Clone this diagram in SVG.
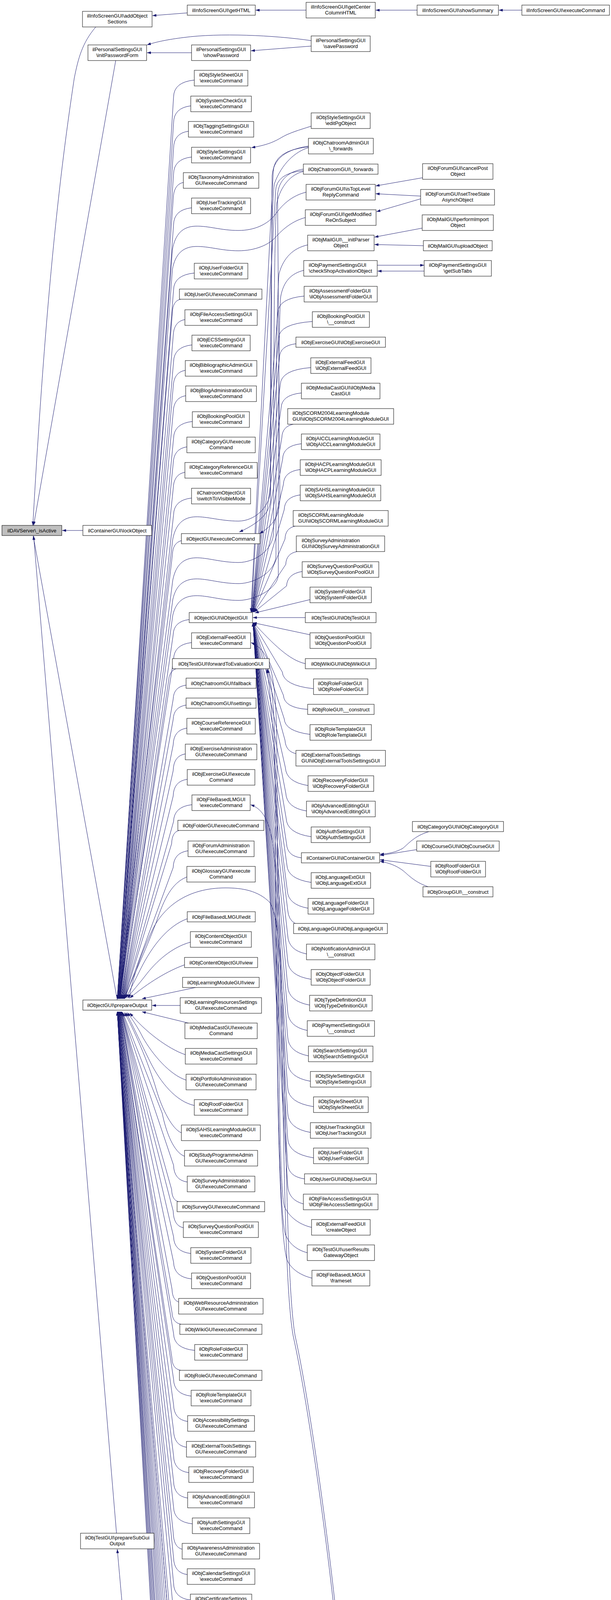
<svg xmlns="http://www.w3.org/2000/svg" width="1563" height="5291" viewBox="0 0 1563 5291">
<defs>
<marker id="a" viewBox="0 0 10 7" refX="10" refY="3.5" markerWidth="10" markerHeight="7" markerUnits="userSpaceOnUse" orient="auto"><path d="M0,0 L10,3.5 L0,7 z" fill="#191970"/></marker>
<style>
.n rect{fill:#fff;stroke:#000;stroke-width:1}
.r rect{fill:#bfbfbf}
text{font-family:"Liberation Sans",Arial,Helvetica,sans-serif;font-size:13px;text-anchor:middle;fill:#000}
#edges path{fill:none;stroke:#191970;stroke-width:1;marker-end:url(#a)}
</style>
</defs>
<rect width="1563" height="5291" fill="#fff"/>
<g id="edges">
<path d="M479,33 L390,40"/>
<path d="M783,26 L654,26"/>
<path d="M1067,26 L961,26"/>
<path d="M1335,26 L1276,26"/>
<path d="M245,69 C210,110 200,150 190,200 C160,400 120,700 84,1345"/>
<path d="M490,135 L376,135"/>
<path d="M796,118 L642,130"/>
<path d="M796,104 C700,90 560,84 470,96 C430,101 400,107 376,115"/>
<path d="M296,155 L86,1345"/>
<path d="M212,1358 L159,1358"/>
<path d="M300,2560 L85,1372"/>
<path d="M298,3925 L86,1372"/>
<path d="M872,4278 C860,4500 830,5000 750,5180 C700,5280 620,5290 565,5287 C480,5285 440,5230 420,5150 C380,4900 330,4300 300,3966"/>
<path d="M866,4278 C845,4600 800,4950 760,5060 C730,5140 700,5170 660,5186"/>
<path d="M868,4252 C845,4000 790,3600 750,3420 C728,3300 726,2900 718,2500 C710,2100 700,1800 682,1713"/>
<path d="M786,3207 C760,3200 740,3185 730,3160 C712,3100 706,2600 704,2000 C703,1830 698,1760 684,1713"/>
<path d="M872,4252 C849,4000 795,3600 755,3420 C734,3300 732,2900 724,2600 C720,2480 712,2340 690,2310 C660,2280 620,2273 577,2273 C480,2273 420,2320 390,2380 C362,2440 340,2500 330,2556"/>
<path d="M797,3142 C765,3135 740,3115 728,3090 C712,3050 712,2500 708,1900 C706,1720 690,1665 642,1645"/>
<path d="M798,3272 C770,3265 745,3250 734,3225 C712,3150 708,2700 706,2300 C705,2130 685,2075 641,2060"/>
<path d="M796,323 C765,333 740,340 720,352 C700,364 680,372 643,378"/>
<path d="M1081,455 L961,476"/>
<path d="M1076,502 L961,496"/>
<path d="M1076,509 L963,542"/>
<path d="M1080,584 L958,607"/>
<path d="M1083,629 L958,626"/>
<path d="M965,679 L1085,679"/>
<path d="M1085,694 L966,694"/>
<path d="M1097,2129 C1060,2140 1045,2160 1030,2172 C1012,2182 995,2185 972,2187"/>
<path d="M1066,2175 L972,2190"/>
<path d="M1102,2218 L972,2201"/>
<path d="M1095,2270 C1060,2258 1045,2240 1030,2228 C1012,2215 995,2209 972,2205"/>
<path d="M783,492 C750,500 725,520 705,548 C685,575 650,590 610,590 C565,590 535,578 500,579 C468,580 448,598 441,640 L303,2557"/>
<path d="M781,557 C750,565 725,585 707,605 C688,628 650,642 610,642 C565,642 535,630 500,631 C468,632 448,650 441,690 L303,2557"/>
<path d="M789,378 C755,388 720,420 702,470 C692,520 692,1000 692,1250 C692,1300 650,1334 610,1334 C565,1334 530,1322 500,1323 C470,1324 450,1340 442,1380 L304,2557"/>
<path d="M776,439 C745,446 718,475 708,520 C700,600 700,1100 700,1360 C700,1410 650,1440 610,1440 C565,1440 530,1427 500,1428 C470,1429 450,1445 442,1485 L305,2557"/>
<path d="M787,627 C750,635 725,660 714,700 C706,760 706,1200 706,1420 C706,1465 650,1494 610,1494 C565,1494 530,1481 500,1482 C470,1483 450,1498 442,1535 L306,2557"/>
<path d="M777,692 C745,700 725,720 718,760 C712,820 712,1250 712,1470 C712,1508 650,1537 610,1537 C565,1537 530,1524 500,1525 C470,1526 450,1540 442,1575 L307,2557"/>
<path d="M789,374 C750,380 700,395 696,450 L692,1280 C690,1320 650,1345 612,1362"/>
<path d="M776,433 C740,438 712,460 710,500 L716,1270 C716,1320 700,1345 664,1366"/>
<path d="M789,376 Q700,385 699,440 L642,1567"/>
<path d="M776,437 Q706,443 705,490 L643,1567"/>
<path d="M778,758 Q712,764 711,800 L644,1567"/>
<path d="M799,823 Q714,829 713,865 L645,1567"/>
<path d="M757,880 Q716,885 715,915 L646,1567"/>
<path d="M795,941 Q718,947 717,985 L646,1567"/>
<path d="M771,1006 Q720,1011 719,1045 L647,1567"/>
<path d="M750,1086 Q722,1092 721,1120 L647,1567"/>
<path d="M771,1136 Q724,1141 723,1175 L648,1567"/>
<path d="M768,1202 Q726,1207 725,1240 L648,1567"/>
<path d="M768,1267 Q728,1272 727,1305 L649,1567"/>
<path d="M755,1347 Q730,1352 729,1380 L649,1567"/>
<path d="M760,1412 Q732,1417 731,1445 L650,1567"/>
<path d="M773,1463 Q735,1469 733,1500 L650,1567"/>
<path d="M793,1535 L652,1569"/>
<path d="M781,1581 L647,1581"/>
<path d="M793,1625 L647,1594"/>
<path d="M781,1699 C740,1690 700,1650 648,1594"/>
<path d="M802,1763 Q725,1755 722,1720 L647,1594"/>
<path d="M787,1816 Q727,1812 725,1780 L647,1594"/>
<path d="M793,1880 Q729,1872 727,1840 L647,1594"/>
<path d="M760,1930 Q731,1925 729,1895 L647,1594"/>
<path d="M788,2011 Q732,2002 730,1965 L647,1594"/>
<path d="M784,2076 Q733,2068 731,2030 L647,1594"/>
<path d="M796,2142 Q734,2133 732,2095 L647,1594"/>
<path d="M771,2196 Q735,2192 733,2160 L647,1594"/>
<path d="M796,2259 Q736,2250 734,2215 L647,1594"/>
<path d="M788,2325 Q737,2316 735,2280 L647,1594"/>
<path d="M755,2364 Q738,2355 736,2330 L647,1594"/>
<path d="M784,2442 Q738,2433 736,2395 L647,1594"/>
<path d="M796,2507 Q738,2498 736,2460 L647,1594"/>
<path d="M792,2573 Q738,2563 736,2525 L647,1594"/>
<path d="M786,2638 Q738,2628 736,2590 L647,1594"/>
<path d="M789,2703 Q738,2693 736,2655 L647,1594"/>
<path d="M794,2768 Q738,2758 736,2720 L647,1594"/>
<path d="M802,2833 Q738,2823 736,2785 L647,1594"/>
<path d="M794,2899 Q738,2889 736,2850 L647,1594"/>
<path d="M802,2964 Q738,2954 736,2915 L647,1594"/>
<path d="M779,3018 Q738,3012 736,2980 L647,1594"/>
<path d="M776,3082 Q738,3072 736,3035 L647,1594"/>
<path d="M497,205 Q445,210 444,248 L300,2557"/>
<path d="M488,271 Q445,276 444,314 L300,2557"/>
<path d="M482,336 Q445,341 444,379 L300,2557"/>
<path d="M490,402 Q445,407 444,445 L301,2557"/>
<path d="M469,467 Q444,472 443,510 L301,2557"/>
<path d="M490,532 Q445,537 444,575 L302,2557"/>
<path d="M497,699 Q445,704 444,742 L302,2557"/>
<path d="M462,766 Q442,770 441,800 L303,2557"/>
<path d="M473,818 Q444,823 443,861 L304,2557"/>
<path d="M491,883 Q445,888 444,926 L304,2557"/>
<path d="M474,948 Q444,953 443,991 L305,2557"/>
<path d="M475,1013 Q444,1018 443,1056 L305,2557"/>
<path d="M492,1079 Q445,1084 444,1122 L306,2557"/>
<path d="M478,1144 Q444,1149 443,1187 L306,2557"/>
<path d="M473,1209 Q444,1214 443,1252 L307,2557"/>
<path d="M490,1275 Q445,1280 444,1318 L307,2557"/>
<path d="M464,1384 Q442,1390 441,1420 L308,2557"/>
<path d="M484,1586 Q444,1591 443,1625 L309,2557"/>
<path d="M490,1645 Q445,1650 444,1688 L310,2557"/>
<path d="M450,1712 Q432,1718 431,1745 L311,2557"/>
<path d="M476,1754 Q444,1758 443,1790 L312,2557"/>
<path d="M476,1805 Q444,1810 443,1842 L313,2557"/>
<path d="M478,1864 Q444,1869 443,1907 L314,2557"/>
<path d="M474,1930 Q444,1935 443,1973 L315,2557"/>
<path d="M479,1995 Q444,2000 443,2038 L316,2557"/>
<path d="M491,2060 Q445,2065 444,2103 L317,2557"/>
<path d="M458,2126 Q440,2130 439,2160 L318,2557"/>
<path d="M481,2178 Q444,2183 443,2221 L319,2557"/>
<path d="M478,2245 C440,2260 420,2300 400,2360 C370,2440 340,2500 318,2556"/>
<path d="M479,2352 C430,2370 390,2420 360,2480 C345,2510 335,2530 322,2555"/>
<path d="M487,2412 C440,2425 400,2460 370,2500 C355,2520 340,2535 326,2555"/>
<path d="M472,2470 C430,2485 380,2515 332,2555"/>
<path d="M500,2528 L363,2557"/>
<path d="M461,2574 L389,2574"/>
<path d="M482,2619 L363,2590"/>
<path d="M474,2700 C430,2685 370,2640 332,2593"/>
<path d="M476,2765 C435,2752 390,2700 365,2655 C350,2625 335,2605 326,2592"/>
<path d="M497,2830 C450,2820 410,2770 385,2720 C360,2670 335,2615 322,2592"/>
<path d="M464,2900 C440,2890 415,2840 400,2790 C380,2720 340,2630 318,2592"/>
<path d="M472,2960 C445,2950 425,2900 415,2850 L314,2592"/>
<path d="M479,3026 Q445,3021 444,2983 L312,2590"/>
<path d="M456,3076 Q440,3072 439,3045 L311,2590"/>
<path d="M469,3143 Q444,3138 443,3100 L310,2590"/>
<path d="M488,3209 Q445,3204 444,3166 L310,2590"/>
<path d="M490,3274 Q445,3269 444,3231 L309,2590"/>
<path d="M460,3334 Q441,3330 440,3300 L308,2590"/>
<path d="M463,3390 Q441,3386 440,3360 L308,2590"/>
<path d="M498,3457 Q445,3452 444,3414 L307,2590"/>
<path d="M462,3508 Q441,3504 440,3478 L306,2590"/>
<path d="M489,3574 Q445,3569 444,3531 L306,2590"/>
<path d="M480,3639 Q445,3634 444,3596 L305,2590"/>
<path d="M477,3705 Q445,3700 444,3662 L305,2590"/>
<path d="M483,3770 Q445,3765 444,3727 L304,2590"/>
<path d="M480,3835 Q445,3830 444,3792 L304,2590"/>
<path d="M492,3901 Q445,3896 444,3858 L303,2590"/>
<path d="M466,3966 Q444,3961 443,3923 L303,2590"/>
<path d="M479,4031 Q445,4026 444,3988 L303,2590"/>
<path d="M487,4096 Q445,4091 444,4053 L302,2590"/>
<path d="M472,4162 Q444,4157 443,4119 L302,2590"/>
<path d="M458,4213 Q440,4209 439,4182 L302,2590"/>
<path d="M456,4272 Q440,4268 439,4240 L301,2590"/>
<path d="M483,4345 Q445,4340 444,4302 L301,2590"/>
<path d="M483,4410 Q445,4405 444,4367 L301,2590"/>
<path d="M477,4475 Q445,4470 444,4432 L300,2590"/>
<path d="M474,4541 Q445,4536 444,4498 L300,2590"/>
<path d="M495,4606 Q445,4601 444,4563 L300,2590"/>
<path d="M488,4672 Q445,4667 444,4629 L300,2590"/>
<path d="M478,4737 Q445,4732 444,4694 L300,2590"/>
<path d="M492,4802 Q445,4797 444,4759 L300,2590"/>
<path d="M466,4867 Q444,4862 443,4824 L300,2590"/>
<path d="M483,4933 Q445,4928 444,4890 L300,2590"/>
<path d="M474,4998 Q445,4993 444,4955 L300,2590"/>
<path d="M485,5063 Q445,5058 444,5020 L300,2590"/>
<path d="M480,5129 Q445,5124 444,5086 L300,2590"/>
<path d="M472,5194 Q445,5189 444,5151 L300,2590"/>
</g>
<g id="nodes">
<g id="info_addObjectSections" class="n"><rect x="211" y="29" width="178" height="40"/><text x="300" y="45">ilInfoScreenGUI\addObject</text><text x="300" y="59.5">Sections</text></g>
<g id="info_getHTML" class="n"><rect x="479" y="13" width="174" height="26"/><text x="566" y="30.5">ilInfoScreenGUI\getHTML</text></g>
<g id="info_getCenterColumnHTML" class="n"><rect x="783" y="6" width="177" height="40"/><text x="871.5" y="22">ilInfoScreenGUI\getCenter</text><text x="871.5" y="36.5">ColumnHTML</text></g>
<g id="info_showSummary" class="n"><rect x="1067" y="13" width="208" height="26"/><text x="1171" y="30.5">ilInfoScreenGUI\showSummary</text></g>
<g id="info_executeCommand" class="n"><rect x="1335" y="13" width="224" height="26"/><text x="1447" y="30.5">ilInfoScreenGUI\executeCommand</text></g>
<g id="ps_initPasswordForm" class="n"><rect x="225" y="115" width="150" height="40"/><text x="300" y="131">ilPersonalSettingsGUI</text><text x="300" y="145.5">\initPasswordForm</text></g>
<g id="ps_showPassword" class="n"><rect x="490" y="115" width="151" height="40"/><text x="565.5" y="131">ilPersonalSettingsGUI</text><text x="565.5" y="145.5">\showPassword</text></g>
<g id="ps_savePassword" class="n"><rect x="796" y="92" width="151" height="40"/><text x="871.5" y="108">ilPersonalSettingsGUI</text><text x="871.5" y="122.5">\savePassword</text></g>
<g id="root_isActive" class="n r"><rect x="5" y="1345" width="153" height="26"/><text x="81.5" y="1362.5">ilDAVServer\_isActive</text></g>
<g id="container_lockObject" class="n"><rect x="212" y="1345" width="176" height="26"/><text x="300" y="1362.5">ilContainerGUI\lockObject</text></g>
<g id="object_prepareOutput" class="n"><rect x="212" y="2560" width="176" height="26"/><text x="300" y="2577.5">ilObjectGUI\prepareOutput</text></g>
<g id="test_prepareSubGuiOutput" class="n"><rect x="206" y="3925" width="188" height="40"/><text x="300" y="3941">ilObjTestGUI\prepareSubGui</text><text x="300" y="3955.5">Output</text></g>
<g id="c2_01" class="n"><rect x="497" y="180" width="137" height="40"/><text x="565.5" y="196">ilObjStyleSheetGUI</text><text x="565.5" y="210.5">\executeCommand</text></g>
<g id="c2_02" class="n"><rect x="488" y="246" width="155" height="40"/><text x="565.5" y="262">ilObjSystemCheckGUI</text><text x="565.5" y="276.5">\executeCommand</text></g>
<g id="c2_03" class="n"><rect x="482" y="311" width="167" height="40"/><text x="565.5" y="327">ilObjTaggingSettingsGUI</text><text x="565.5" y="341.5">\executeCommand</text></g>
<g id="c2_04" class="n"><rect x="490" y="377" width="151" height="40"/><text x="565.5" y="393">ilObjStyleSettingsGUI</text><text x="565.5" y="407.5">\executeCommand</text></g>
<g id="c2_05" class="n"><rect x="469" y="442" width="193" height="40"/><text x="565.5" y="458">ilObjTaxonomyAdministration</text><text x="565.5" y="472.5">GUI\executeCommand</text></g>
<g id="c2_06" class="n"><rect x="490" y="507" width="151" height="40"/><text x="565.5" y="523">ilObjUserTrackingGUI</text><text x="565.5" y="537.5">\executeCommand</text></g>
<g id="c2_07" class="n"><rect x="497" y="674" width="137" height="40"/><text x="565.5" y="690">ilObjUserFolderGUI</text><text x="565.5" y="704.5">\executeCommand</text></g>
<g id="c2_08" class="n"><rect x="459" y="740" width="211" height="26"/><text x="564.5" y="757.5">ilObjUserGUI\executeCommand</text></g>
<g id="c2_09" class="n"><rect x="473" y="793" width="185" height="40"/><text x="565.5" y="809">ilObjFileAccessSettingsGUI</text><text x="565.5" y="823.5">\executeCommand</text></g>
<g id="c2_10" class="n"><rect x="491" y="858" width="149" height="40"/><text x="565.5" y="874">ilObjECSSettingsGUI</text><text x="565.5" y="888.5">\executeCommand</text></g>
<g id="c2_11" class="n"><rect x="474" y="923" width="183" height="40"/><text x="565.5" y="939">ilObjBibliographicAdminGUI</text><text x="565.5" y="953.5">\executeCommand</text></g>
<g id="c2_12" class="n"><rect x="475" y="988" width="181" height="40"/><text x="565.5" y="1004">ilObjBlogAdministrationGUI</text><text x="565.5" y="1018.5">\executeCommand</text></g>
<g id="c2_13" class="n"><rect x="492" y="1054" width="146" height="40"/><text x="565" y="1070">ilObjBookingPoolGUI</text><text x="565" y="1084.5">\executeCommand</text></g>
<g id="c2_14" class="n"><rect x="478" y="1119" width="175" height="40"/><text x="565.5" y="1135">ilObjCategoryGUI\execute</text><text x="565.5" y="1149.5">Command</text></g>
<g id="c2_15" class="n"><rect x="473" y="1184" width="185" height="40"/><text x="565.5" y="1200">ilObjCategoryReferenceGUI</text><text x="565.5" y="1214.5">\executeCommand</text></g>
<g id="c2_16" class="n"><rect x="490" y="1250" width="151" height="40"/><text x="565.5" y="1266">ilChatroomObjectGUI</text><text x="565.5" y="1280.5">\switchToVisibleMode</text></g>
<g id="c2_17" class="n"><rect x="464" y="1366" width="201" height="26"/><text x="564.5" y="1383.5">ilObjectGUI\executeCommand</text></g>
<g id="c2_18" class="n"><rect x="484" y="1568" width="162" height="26"/><text x="565" y="1585.5">ilObjectGUI\ilObjectGUI</text></g>
<g id="c2_19" class="n"><rect x="490" y="1620" width="151" height="40"/><text x="565.5" y="1636">ilObjExternalFeedGUI</text><text x="565.5" y="1650.5">\executeCommand</text></g>
<g id="c2_20" class="n"><rect x="441" y="1686" width="248" height="26"/><text x="565" y="1703.5">ilObjTestGUI\forwardToEvaluationGUI</text></g>
<g id="c2_21" class="n"><rect x="476" y="1736" width="179" height="26"/><text x="565.5" y="1753.5">ilObjChatroomGUI\fallback</text></g>
<g id="c2_22" class="n"><rect x="476" y="1787" width="179" height="26"/><text x="565.5" y="1804.5">ilObjChatroomGUI\settings</text></g>
<g id="c2_23" class="n"><rect x="478" y="1839" width="175" height="40"/><text x="565.5" y="1855">ilObjCourseReferenceGUI</text><text x="565.5" y="1869.5">\executeCommand</text></g>
<g id="c2_24" class="n"><rect x="474" y="1905" width="183" height="40"/><text x="565.5" y="1921">ilObjExerciseAdministration</text><text x="565.5" y="1935.5">GUI\executeCommand</text></g>
<g id="c2_25" class="n"><rect x="479" y="1970" width="173" height="40"/><text x="565.5" y="1986">ilObjExerciseGUI\execute</text><text x="565.5" y="2000.5">Command</text></g>
<g id="c2_26" class="n"><rect x="491" y="2035" width="149" height="40"/><text x="565.5" y="2051">ilObjFileBasedLMGUI</text><text x="565.5" y="2065.5">\executeCommand</text></g>
<g id="c2_27" class="n"><rect x="455" y="2100" width="220" height="26"/><text x="565" y="2117.5">ilObjFolderGUI\executeCommand</text></g>
<g id="c2_28" class="n"><rect x="481" y="2153" width="169" height="40"/><text x="565.5" y="2169">ilObjForumAdministration</text><text x="565.5" y="2183.5">GUI\executeCommand</text></g>
<g id="c2_29" class="n"><rect x="478" y="2218" width="175" height="40"/><text x="565.5" y="2234">ilObjGlossaryGUI\execute</text><text x="565.5" y="2248.5">Command</text></g>
<g id="c2_30" class="n"><rect x="479" y="2334" width="174" height="26"/><text x="566" y="2351.5">ilObjFileBasedLMGUI\edit</text></g>
<g id="c2_31" class="n"><rect x="487" y="2385" width="156" height="40"/><text x="565" y="2401">ilObjContentObjectGUI</text><text x="565" y="2415.5">\executeCommand</text></g>
<g id="c2_32" class="n"><rect x="472" y="2451" width="187" height="26"/><text x="565.5" y="2468.5">ilObjContentObjectGUI\view</text></g>
<g id="c2_33" class="n"><rect x="467" y="2502" width="196" height="26"/><text x="565" y="2519.5">ilObjLearningModuleGUI\view</text></g>
<g id="c2_34" class="n"><rect x="461" y="2554" width="208" height="40"/><text x="565" y="2570">ilObjLearningResourcesSettings</text><text x="565" y="2584.5">GUI\executeCommand</text></g>
<g id="c2_35" class="n"><rect x="473" y="2619" width="185" height="40"/><text x="565.5" y="2635">ilObjMediaCastGUI\execute</text><text x="565.5" y="2649.5">Command</text></g>
<g id="c2_36" class="n"><rect x="474" y="2684" width="183" height="40"/><text x="565.5" y="2700">ilObjMediaCastSettingsGUI</text><text x="565.5" y="2714.5">\executeCommand</text></g>
<g id="c2_37" class="n"><rect x="476" y="2750" width="179" height="40"/><text x="565.5" y="2766">ilObjPortfolioAdministration</text><text x="565.5" y="2780.5">GUI\executeCommand</text></g>
<g id="c2_38" class="n"><rect x="497" y="2815" width="137" height="40"/><text x="565.5" y="2831">ilObjRootFolderGUI</text><text x="565.5" y="2845.5">\executeCommand</text></g>
<g id="c2_39" class="n"><rect x="464" y="2880" width="202" height="40"/><text x="565" y="2896">ilObjSAHSLearningModuleGUI</text><text x="565" y="2910.5">\executeCommand</text></g>
<g id="c2_40" class="n"><rect x="472" y="2945" width="187" height="40"/><text x="565.5" y="2961">ilObjStudyProgrammeAdmin</text><text x="565.5" y="2975.5">GUI\executeCommand</text></g>
<g id="c2_41" class="n"><rect x="479" y="3011" width="173" height="40"/><text x="565.5" y="3027">ilObjSurveyAdministration</text><text x="565.5" y="3041.5">GUI\executeCommand</text></g>
<g id="c2_42" class="n"><rect x="453" y="3076" width="224" height="26"/><text x="565" y="3093.5">ilObjSurveyGUI\executeCommand</text></g>
<g id="c2_43" class="n"><rect x="469" y="3128" width="192" height="40"/><text x="565" y="3144">ilObjSurveyQuestionPoolGUI</text><text x="565" y="3158.5">\executeCommand</text></g>
<g id="c2_44" class="n"><rect x="488" y="3194" width="154" height="40"/><text x="565" y="3210">ilObjSystemFolderGUI</text><text x="565" y="3224.5">\executeCommand</text></g>
<g id="c2_45" class="n"><rect x="490" y="3259" width="151" height="40"/><text x="565.5" y="3275">ilObjQuestionPoolGUI</text><text x="565.5" y="3289.5">\executeCommand</text></g>
<g id="c2_46" class="n"><rect x="457" y="3324" width="216" height="40"/><text x="565" y="3340">ilObjWebResourceAdministration</text><text x="565" y="3354.5">GUI\executeCommand</text></g>
<g id="c2_47" class="n"><rect x="460" y="3390" width="210" height="26"/><text x="565" y="3407.5">ilObjWikiGUI\executeCommand</text></g>
<g id="c2_48" class="n"><rect x="498" y="3442" width="135" height="40"/><text x="565.5" y="3458">ilObjRoleFolderGUI</text><text x="565.5" y="3472.5">\executeCommand</text></g>
<g id="c2_49" class="n"><rect x="459" y="3508" width="211" height="26"/><text x="564.5" y="3525.5">ilObjRoleGUI\executeCommand</text></g>
<g id="c2_50" class="n"><rect x="489" y="3559" width="153" height="40"/><text x="565.5" y="3575">ilObjRoleTemplateGUI</text><text x="565.5" y="3589.5">\executeCommand</text></g>
<g id="c2_51" class="n"><rect x="480" y="3624" width="171" height="40"/><text x="565.5" y="3640">ilObjAccessibilitySettings</text><text x="565.5" y="3654.5">GUI\executeCommand</text></g>
<g id="c2_52" class="n"><rect x="477" y="3690" width="177" height="40"/><text x="565.5" y="3706">ilObjExternalToolsSettings</text><text x="565.5" y="3720.5">GUI\executeCommand</text></g>
<g id="c2_53" class="n"><rect x="483" y="3755" width="165" height="40"/><text x="565.5" y="3771">ilObjRecoveryFolderGUI</text><text x="565.5" y="3785.5">\executeCommand</text></g>
<g id="c2_54" class="n"><rect x="480" y="3820" width="171" height="40"/><text x="565.5" y="3836">ilObjAdvancedEditingGUI</text><text x="565.5" y="3850.5">\executeCommand</text></g>
<g id="c2_55" class="n"><rect x="492" y="3886" width="147" height="40"/><text x="565.5" y="3902">ilObjAuthSettingsGUI</text><text x="565.5" y="3916.5">\executeCommand</text></g>
<g id="c2_56" class="n"><rect x="466" y="3951" width="198" height="40"/><text x="565" y="3967">ilObjAwarenessAdministration</text><text x="565" y="3981.5">GUI\executeCommand</text></g>
<g id="c2_57" class="n"><rect x="479" y="4016" width="173" height="40"/><text x="565.5" y="4032">ilObjCalendarSettingsGUI</text><text x="565.5" y="4046.5">\executeCommand</text></g>
<g id="c2_58" class="n"><rect x="487" y="4081" width="157" height="40"/><text x="565.5" y="4097">ilObjCertificateSettings</text><text x="565.5" y="4111.5">GUI\executeCommand</text></g>
<g id="c2_59" class="n"><rect x="472" y="4147" width="187" height="40"/><text x="565.5" y="4163">ilObjComponentSettingsGUI</text><text x="565.5" y="4177.5">\executeCommand</text></g>
<g id="c2_60" class="n"><rect x="455" y="4213" width="220" height="26"/><text x="565" y="4230.5">ilContainerGUI\executeCommand</text></g>
<g id="c2_61" class="n"><rect x="453" y="4264" width="224" height="40"/><text x="565" y="4280">ilObjObjectTemplateAdministration</text><text x="565" y="4294.5">GUI\executeCommand</text></g>
<g id="c2_62" class="n"><rect x="483" y="4330" width="165" height="40"/><text x="565.5" y="4346">ilObjLanguageFolderGUI</text><text x="565.5" y="4360.5">\executeCommand</text></g>
<g id="c2_63" class="n"><rect x="483" y="4395" width="165" height="40"/><text x="565.5" y="4411">ilObjLoggingSettingsGUI</text><text x="565.5" y="4425.5">\executeCommand</text></g>
<g id="c2_64" class="n"><rect x="477" y="4460" width="177" height="40"/><text x="565.5" y="4476">ilObjMediaObjectsSettings</text><text x="565.5" y="4490.5">GUI\executeCommand</text></g>
<g id="c2_65" class="n"><rect x="474" y="4526" width="183" height="40"/><text x="565.5" y="4542">ilMembershipAdministration</text><text x="565.5" y="4556.5">GUI\executeCommand</text></g>
<g id="c2_66" class="n"><rect x="495" y="4591" width="141" height="40"/><text x="565.5" y="4607">ilObjMDSettingsGUI</text><text x="565.5" y="4621.5">\executeCommand</text></g>
<g id="c2_67" class="n"><rect x="488" y="4657" width="155" height="40"/><text x="565.5" y="4673">ilObjNewsSettingsGUI</text><text x="565.5" y="4687.5">\executeCommand</text></g>
<g id="c2_68" class="n"><rect x="478" y="4722" width="175" height="40"/><text x="565.5" y="4738">ilObjNotificationAdminGUI</text><text x="565.5" y="4752.5">\executeCommand</text></g>
<g id="c2_69" class="n"><rect x="492" y="4787" width="147" height="40"/><text x="565.5" y="4803">ilObjObjectFolderGUI</text><text x="565.5" y="4817.5">\executeCommand</text></g>
<g id="c2_70" class="n"><rect x="466" y="4852" width="198" height="40"/><text x="565" y="4868">ilObjPersonalDesktopSettings</text><text x="565" y="4882.5">GUI\executeCommand</text></g>
<g id="c2_71" class="n"><rect x="483" y="4918" width="165" height="40"/><text x="565.5" y="4934">ilObjPrivacySecurityGUI</text><text x="565.5" y="4948.5">\executeCommand</text></g>
<g id="c2_72" class="n"><rect x="474" y="4983" width="183" height="40"/><text x="565.5" y="4999">ilObjRepositorySettingsGUI</text><text x="565.5" y="5013.5">\executeCommand</text></g>
<g id="c2_73" class="n"><rect x="485" y="5048" width="161" height="40"/><text x="565.5" y="5064">ilObjSearchSettingsGUI</text><text x="565.5" y="5078.5">\executeCommand</text></g>
<g id="c2_74" class="n"><rect x="480" y="5114" width="172" height="40"/><text x="566" y="5130">ilObjSkillManagementGUI</text><text x="566" y="5144.5">\executeCommand</text></g>
<g id="c2_75" class="n"><rect x="472" y="5179" width="187" height="40"/><text x="565.5" y="5195">ilObjTestGUI\forwardToEval</text><text x="565.5" y="5209.5">ObjectiveOrientedGUI</text></g>
<g id="c3_01" class="n"><rect x="796" y="289" width="151" height="40"/><text x="871.5" y="305">ilObjStyleSettingsGUI</text><text x="871.5" y="319.5">\editPgObject</text></g>
<g id="c3_02" class="n"><rect x="789" y="354" width="166" height="40"/><text x="872" y="370">ilObjChatroomAdminGUI</text><text x="872" y="384.5">\_forwards</text></g>
<g id="c3_03" class="n"><rect x="776" y="420" width="191" height="26"/><text x="871.5" y="437.5">ilObjChatroomGUI\_forwards</text></g>
<g id="c3_04" class="n"><rect x="783" y="472" width="177" height="40"/><text x="871.5" y="488">ilObjForumGUI\isTopLevel</text><text x="871.5" y="502.5">ReplyCommand</text></g>
<g id="c3_05" class="n"><rect x="781" y="537" width="181" height="40"/><text x="871.5" y="553">ilObjForumGUI\getModified</text><text x="871.5" y="567.5">ReOnSubject</text></g>
<g id="c3_06" class="n"><rect x="787" y="602" width="170" height="40"/><text x="872" y="618">ilObjMailGUI\__initParser</text><text x="872" y="632.5">Object</text></g>
<g id="c3_07" class="n"><rect x="777" y="667" width="188" height="40"/><text x="863.5" y="683">ilObjPaymentSettingsGUI</text><text x="871" y="697.5">\checkShopActivationObject</text></g>
<g id="c3_08" class="n"><rect x="778" y="733" width="187" height="40"/><text x="869.7" y="749">ilObjAssessmentFolderGUI</text><text x="871.5" y="763.5">\ilObjAssessmentFolderGUI</text></g>
<g id="c3_09" class="n"><rect x="799" y="798" width="146" height="40"/><text x="872" y="814">ilObjBookingPoolGUI</text><text x="872" y="828.5">\__construct</text></g>
<g id="c3_10" class="n"><rect x="757" y="863" width="229" height="26"/><text x="871.5" y="880.5">ilObjExerciseGUI\ilObjExerciseGUI</text></g>
<g id="c3_11" class="n"><rect x="795" y="916" width="154" height="40"/><text x="870.2" y="932">ilObjExternalFeedGUI</text><text x="872" y="946.5">\ilObjExternalFeedGUI</text></g>
<g id="c3_12" class="n"><rect x="771" y="981" width="201" height="40"/><text x="871.5" y="997">ilObjMediaCastGUI\ilObjMedia</text><text x="871.5" y="1011.5">CastGUI</text></g>
<g id="c3_13" class="n"><rect x="736" y="1046" width="271" height="40"/><text x="846.6" y="1062">ilObjSCORM2004LearningModule</text><text x="871.5" y="1076.5">GUI\ilObjSCORM2004LearningModuleGUI</text></g>
<g id="c3_14" class="n"><rect x="771" y="1111" width="201" height="40"/><text x="869.7" y="1127">ilObjAICCLearningModuleGUI</text><text x="871.5" y="1141.5">\ilObjAICCLearningModuleGUI</text></g>
<g id="c3_15" class="n"><rect x="768" y="1177" width="207" height="40"/><text x="869.7" y="1193">ilObjHACPLearningModuleGUI</text><text x="871.5" y="1207.5">\ilObjHACPLearningModuleGUI</text></g>
<g id="c3_16" class="n"><rect x="768" y="1242" width="206" height="40"/><text x="869.2" y="1258">ilObjSAHSLearningModuleGUI</text><text x="871" y="1272.5">\ilObjSAHSLearningModuleGUI</text></g>
<g id="c3_17" class="n"><rect x="750" y="1307" width="243" height="40"/><text x="846.6" y="1323">ilObjSCORMLearningModule</text><text x="871.5" y="1337.5">GUI\ilObjSCORMLearningModuleGUI</text></g>
<g id="c3_18" class="n"><rect x="758" y="1372" width="226" height="40"/><text x="846.1" y="1388">ilObjSurveyAdministration</text><text x="871" y="1402.5">GUI\ilObjSurveyAdministrationGUI</text></g>
<g id="c3_19" class="n"><rect x="773" y="1438" width="196" height="40"/><text x="869.2" y="1454">ilObjSurveyQuestionPoolGUI</text><text x="871" y="1468.5">\ilObjSurveyQuestionPoolGUI</text></g>
<g id="c3_20" class="n"><rect x="793" y="1503" width="157" height="40"/><text x="869.7" y="1519">ilObjSystemFolderGUI</text><text x="871.5" y="1533.5">\ilObjSystemFolderGUI</text></g>
<g id="c3_21" class="n"><rect x="781" y="1568" width="181" height="26"/><text x="871.5" y="1585.5">ilObjTestGUI\ilObjTestGUI</text></g>
<g id="c3_22" class="n"><rect x="793" y="1620" width="156" height="40"/><text x="869.2" y="1636">ilObjQuestionPoolGUI</text><text x="871" y="1650.5">\ilObjQuestionPoolGUI</text></g>
<g id="c3_23" class="n"><rect x="781" y="1686" width="181" height="26"/><text x="871.5" y="1703.5">ilObjWikiGUI\ilObjWikiGUI</text></g>
<g id="c3_24" class="n"><rect x="802" y="1738" width="139" height="40"/><text x="869.7" y="1754">ilObjRoleFolderGUI</text><text x="871.5" y="1768.5">\ilObjRoleFolderGUI</text></g>
<g id="c3_25" class="n"><rect x="787" y="1803" width="170" height="26"/><text x="872" y="1820.5">ilObjRoleGUI\__construct</text></g>
<g id="c3_26" class="n"><rect x="793" y="1855" width="157" height="40"/><text x="869.7" y="1871">ilObjRoleTemplateGUI</text><text x="871.5" y="1885.5">\ilObjRoleTemplateGUI</text></g>
<g id="c3_27" class="n"><rect x="757" y="1921" width="229" height="40"/><text x="846.6" y="1937">ilObjExternalToolsSettings</text><text x="871.5" y="1951.5">GUI\ilObjExternalToolsSettingsGUI</text></g>
<g id="c3_28" class="n"><rect x="788" y="1986" width="168" height="40"/><text x="870.2" y="2002">ilObjRecoveryFolderGUI</text><text x="872" y="2016.5">\ilObjRecoveryFolderGUI</text></g>
<g id="c3_29" class="n"><rect x="784" y="2051" width="176" height="40"/><text x="870.2" y="2067">ilObjAdvancedEditingGUI</text><text x="872" y="2081.5">\ilObjAdvancedEditingGUI</text></g>
<g id="c3_30" class="n"><rect x="796" y="2117" width="151" height="40"/><text x="869.7" y="2133">ilObjAuthSettingsGUI</text><text x="871.5" y="2147.5">\ilObjAuthSettingsGUI</text></g>
<g id="c3_31" class="n"><rect x="771" y="2183" width="200" height="26"/><text x="871" y="2200.5">ilContainerGUI\ilContainerGUI</text></g>
<g id="c3_32" class="n"><rect x="796" y="2234" width="152" height="40"/><text x="870.2" y="2250">ilObjLanguageExtGUI</text><text x="872" y="2264.5">\ilObjLanguageExtGUI</text></g>
<g id="c3_33" class="n"><rect x="788" y="2300" width="168" height="40"/><text x="870.2" y="2316">ilObjLanguageFolderGUI</text><text x="872" y="2330.5">\ilObjLanguageFolderGUI</text></g>
<g id="c3_34" class="n"><rect x="751" y="2364" width="240" height="26"/><text x="871" y="2381.5">ilObjLanguageGUI\ilObjLanguageGUI</text></g>
<g id="c3_35" class="n"><rect x="784" y="2417" width="175" height="40"/><text x="871.5" y="2433">ilObjNotificationAdminGUI</text><text x="871.5" y="2447.5">\__construct</text></g>
<g id="c3_36" class="n"><rect x="796" y="2482" width="151" height="40"/><text x="869.7" y="2498">ilObjObjectFolderGUI</text><text x="871.5" y="2512.5">\ilObjObjectFolderGUI</text></g>
<g id="c3_37" class="n"><rect x="792" y="2548" width="160" height="40"/><text x="870.2" y="2564">ilObjTypeDefinitionGUI</text><text x="872" y="2578.5">\ilObjTypeDefinitionGUI</text></g>
<g id="c3_38" class="n"><rect x="786" y="2613" width="172" height="40"/><text x="872" y="2629">ilObjPaymentSettingsGUI</text><text x="872" y="2643.5">\__construct</text></g>
<g id="c3_39" class="n"><rect x="789" y="2678" width="165" height="40"/><text x="869.7" y="2694">ilObjSearchSettingsGUI</text><text x="871.5" y="2708.5">\ilObjSearchSettingsGUI</text></g>
<g id="c3_40" class="n"><rect x="794" y="2743" width="155" height="40"/><text x="869.7" y="2759">ilObjStyleSettingsGUI</text><text x="871.5" y="2773.5">\ilObjStyleSettingsGUI</text></g>
<g id="c3_41" class="n"><rect x="802" y="2808" width="140" height="40"/><text x="870.2" y="2824">ilObjStyleSheetGUI</text><text x="872" y="2838.5">\ilObjStyleSheetGUI</text></g>
<g id="c3_42" class="n"><rect x="794" y="2874" width="155" height="40"/><text x="869.7" y="2890">ilObjUserTrackingGUI</text><text x="871.5" y="2904.5">\ilObjUserTrackingGUI</text></g>
<g id="c3_43" class="n"><rect x="802" y="2939" width="140" height="40"/><text x="870.2" y="2955">ilObjUserFolderGUI</text><text x="872" y="2969.5">\ilObjUserFolderGUI</text></g>
<g id="c3_44" class="n"><rect x="779" y="3005" width="184" height="26"/><text x="871" y="3022.5">ilObjUserGUI\ilObjUserGUI</text></g>
<g id="c3_45" class="n"><rect x="776" y="3057" width="191" height="40"/><text x="869.7" y="3073">ilObjFileAccessSettingsGUI</text><text x="871.5" y="3087.5">\ilObjFileAccessSettingsGUI</text></g>
<g id="c3_46" class="n"><rect x="797" y="3122" width="150" height="40"/><text x="872" y="3138">ilObjExternalFeedGUI</text><text x="872" y="3152.5">\createObject</text></g>
<g id="c3_47" class="n"><rect x="786" y="3187" width="172" height="40"/><text x="872" y="3203">ilObjTestGUI\userResults</text><text x="872" y="3217.5">GatewayObject</text></g>
<g id="c3_48" class="n"><rect x="798" y="3252" width="148" height="40"/><text x="872" y="3268">ilObjFileBasedLMGUI</text><text x="872" y="3282.5">\frameset</text></g>
<g id="c3_49" class="n"><rect x="767" y="4252" width="209" height="26"/><text x="871.5" y="4269.5">ilObjTestGUI\executeCommand</text></g>
<g id="c4_01" class="n"><rect x="1081" y="419" width="180" height="40"/><text x="1171" y="435">ilObjForumGUI\cancelPost</text><text x="1171" y="449.5">Object</text></g>
<g id="c4_02" class="n"><rect x="1076" y="485" width="189" height="40"/><text x="1170.5" y="501">ilObjForumGUI\setTreeState</text><text x="1170.5" y="515.5">AsynchObject</text></g>
<g id="c4_03" class="n"><rect x="1080" y="550" width="182" height="40"/><text x="1171" y="566">ilObjMailGUI\performImport</text><text x="1171" y="580.5">Object</text></g>
<g id="c4_04" class="n"><rect x="1083" y="616" width="176" height="26"/><text x="1171" y="633.5">ilObjMailGUI\uploadObject</text></g>
<g id="c4_05" class="n"><rect x="1085" y="667" width="172" height="40"/><text x="1171" y="683">ilObjPaymentSettingsGUI</text><text x="1171" y="697.5">\getSubTabs</text></g>
<g id="c4_06" class="n"><rect x="1055" y="2103" width="233" height="26"/><text x="1171.5" y="2120.5">ilObjCategoryGUI\ilObjCategoryGUI</text></g>
<g id="c4_07" class="n"><rect x="1066" y="2153" width="211" height="26"/><text x="1171.5" y="2170.5">ilObjCourseGUI\ilObjCourseGUI</text></g>
<g id="c4_08" class="n"><rect x="1102" y="2205" width="140" height="40"/><text x="1170.2" y="2221">ilObjRootFolderGUI</text><text x="1172" y="2235.5">\ilObjRootFolderGUI</text></g>
<g id="c4_09" class="n"><rect x="1082" y="2270" width="179" height="26"/><text x="1171.5" y="2287.5">ilObjGroupGUI\__construct</text></g>
</g>
</svg>
